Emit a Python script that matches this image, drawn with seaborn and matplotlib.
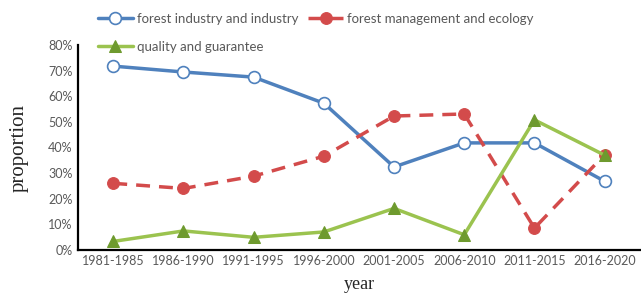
import pandas as pd
import numpy as np
import matplotlib.pyplot as plt
import seaborn as sns
from matplotlib.ticker import PercentFormatter

periods = ["1981-1985", "1986-1990", "1991-1995", "1996-2000",
           "2001-2005", "2006-2010", "2011-2015", "2016-2020"]
forest_industry = [71.8, 69.5, 67.5, 57.3, 32.4, 41.8, 41.8, 26.8]
forest_management = [26.0, 24.0, 28.8, 36.6, 52.3, 53.1, 8.5, 37.2]
quality_guarantee = [3.3, 7.4, 4.9, 7.0, 16.2, 5.9, 50.8, 37.0]

df = pd.DataFrame({
    "year": periods,
    "forest industry and industry": forest_industry,
    "forest management and ecology": forest_management,
    "quality and guarantee": quality_guarantee,
})

sns.set_style("white")
plt.rcParams["font.family"] = ["Lato", "DejaVu Sans"]

fig = plt.figure(figsize=(6.41, 2.95), dpi=100)
ax = fig.add_axes([0.122, 0.153, 0.876, 0.694])

sns.lineplot(data=df, x="year", y="forest industry and industry", ax=ax,
             sort=False, color="#4F81BD", lw=2.5, marker="o", ms=8.5,
             mfc="white", mec="#4F81BD", mew=1.2,
             label="forest industry and industry")
sns.lineplot(data=df, x="year", y="forest management and ecology", ax=ax,
             sort=False, color="#D34B4B", lw=2.5, linestyle=(0, (4, 2.6)),
             marker="o", ms=8.5, mfc="#D34B4B", mec="#D34B4B",
             label="forest management and ecology")
sns.lineplot(data=df, x="year", y="quality and guarantee", ax=ax,
             sort=False, color="#9BC34F", lw=2.5, marker="^", ms=8.5,
             mfc="#6E9A2E", mec="#6E9A2E",
             label="quality and guarantee")

ax.set_ylim(0, 80)
ax.set_yticks(np.arange(0, 81, 10))
ax.yaxis.set_major_formatter(PercentFormatter(decimals=0))
ax.set_xlim(-0.5, len(periods) - 0.5)

for s in ["top", "right"]:
    ax.spines[s].set_visible(False)
for s in ["left", "bottom"]:
    ax.spines[s].set_color("black")
    ax.spines[s].set_linewidth(1.6)

ax.tick_params(axis="both", labelsize=9, labelcolor="#595959", length=0, pad=4)
ax.set_xlabel("year", family="Liberation Serif", fontsize=13, labelpad=6)
ax.set_ylabel("proportion", family="Liberation Serif", fontsize=15, labelpad=14)

# column-major fill: order so row 1 = blue, red; row 2 = green
h, l = ax.get_legend_handles_labels()
order = [0, 2, 1]
ax.legend([h[i] for i in order], [l[i] for i in order],
          loc="upper left", bbox_to_anchor=(0.148, 0.965),
          bbox_transform=fig.transFigure, ncol=2, frameon=False,
          fontsize=9.5, labelcolor="#595959", handlelength=2.7,
          columnspacing=0.7, handletextpad=0.3, labelspacing=1.2,
          borderaxespad=0, borderpad=0.2)

plt.savefig("out.png", dpi=100)
plt.close()
